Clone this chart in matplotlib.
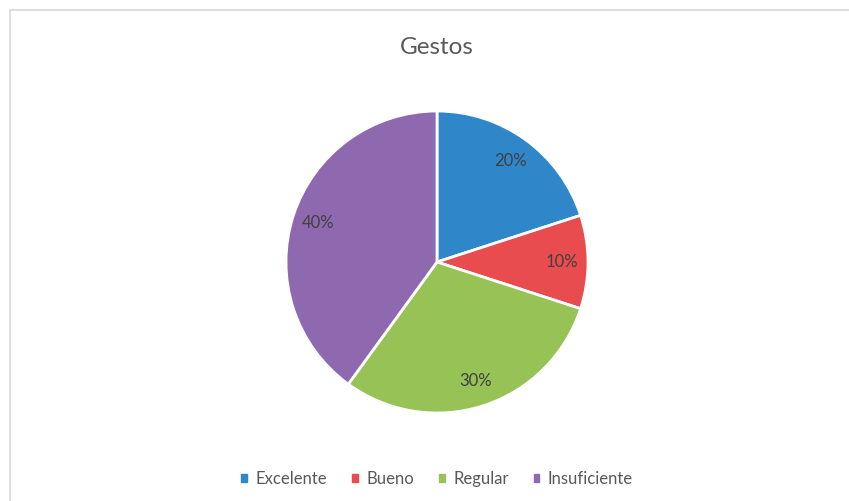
import matplotlib.pyplot as plt
from matplotlib.patches import Rectangle

# Valoracion de gestos
categorias = ['Excelente', 'Bueno', 'Regular', 'Insuficiente']
valores = [20, 10, 30, 40]
colores = ['#2f86c8', '#e84c4f', '#97c256', '#8f69b0']

plt.rcParams['font.family'] = ['Lato', 'DejaVu Sans']

W, H = 849, 501
fig = plt.figure(figsize=(W / 100, H / 100), dpi=100)

# marco gris claro del grafico
fig.patches.append(Rectangle((10 / W, -0.1), 1.2, (H - 10) / H + 0.1,
                             transform=fig.transFigure, fill=False,
                             edgecolor='#d9d9d9', linewidth=1.2))

cx, cy, r = 437, 262, 151
ax = fig.add_axes([(cx - r) / W, (H - cy - r) / H, 2 * r / W, 2 * r / H])
wedges, textos, pct = ax.pie(valores, colors=colores, startangle=90,
                             counterclock=False, autopct='%1.0f%%',
                             pctdistance=0.83,
                             wedgeprops=dict(edgecolor='white', linewidth=2))
for t in pct:
    t.set_color('#404040')
    t.set_fontsize(12)
ax.set_xlim(-1, 1)
ax.set_ylim(-1, 1)
ax.set_aspect('equal')
ax.axis('off')

fig.text(cx / W, 1 - 47 / H, 'Gestos', ha='center', va='center',
         fontsize=17.5, color='#595959')

handles = [Rectangle((0, 0), 1, 1, color=c) for c in colores]
fig.legend(handles, categorias, loc='center', bbox_to_anchor=(cx / W, 1 - 479 / H),
           ncol=4, frameon=False, fontsize=12, handlelength=0.35, handleheight=0.35,
           handletextpad=0.5, columnspacing=1.5, labelcolor='#595959')

fig.savefig('out.png', dpi=100)
